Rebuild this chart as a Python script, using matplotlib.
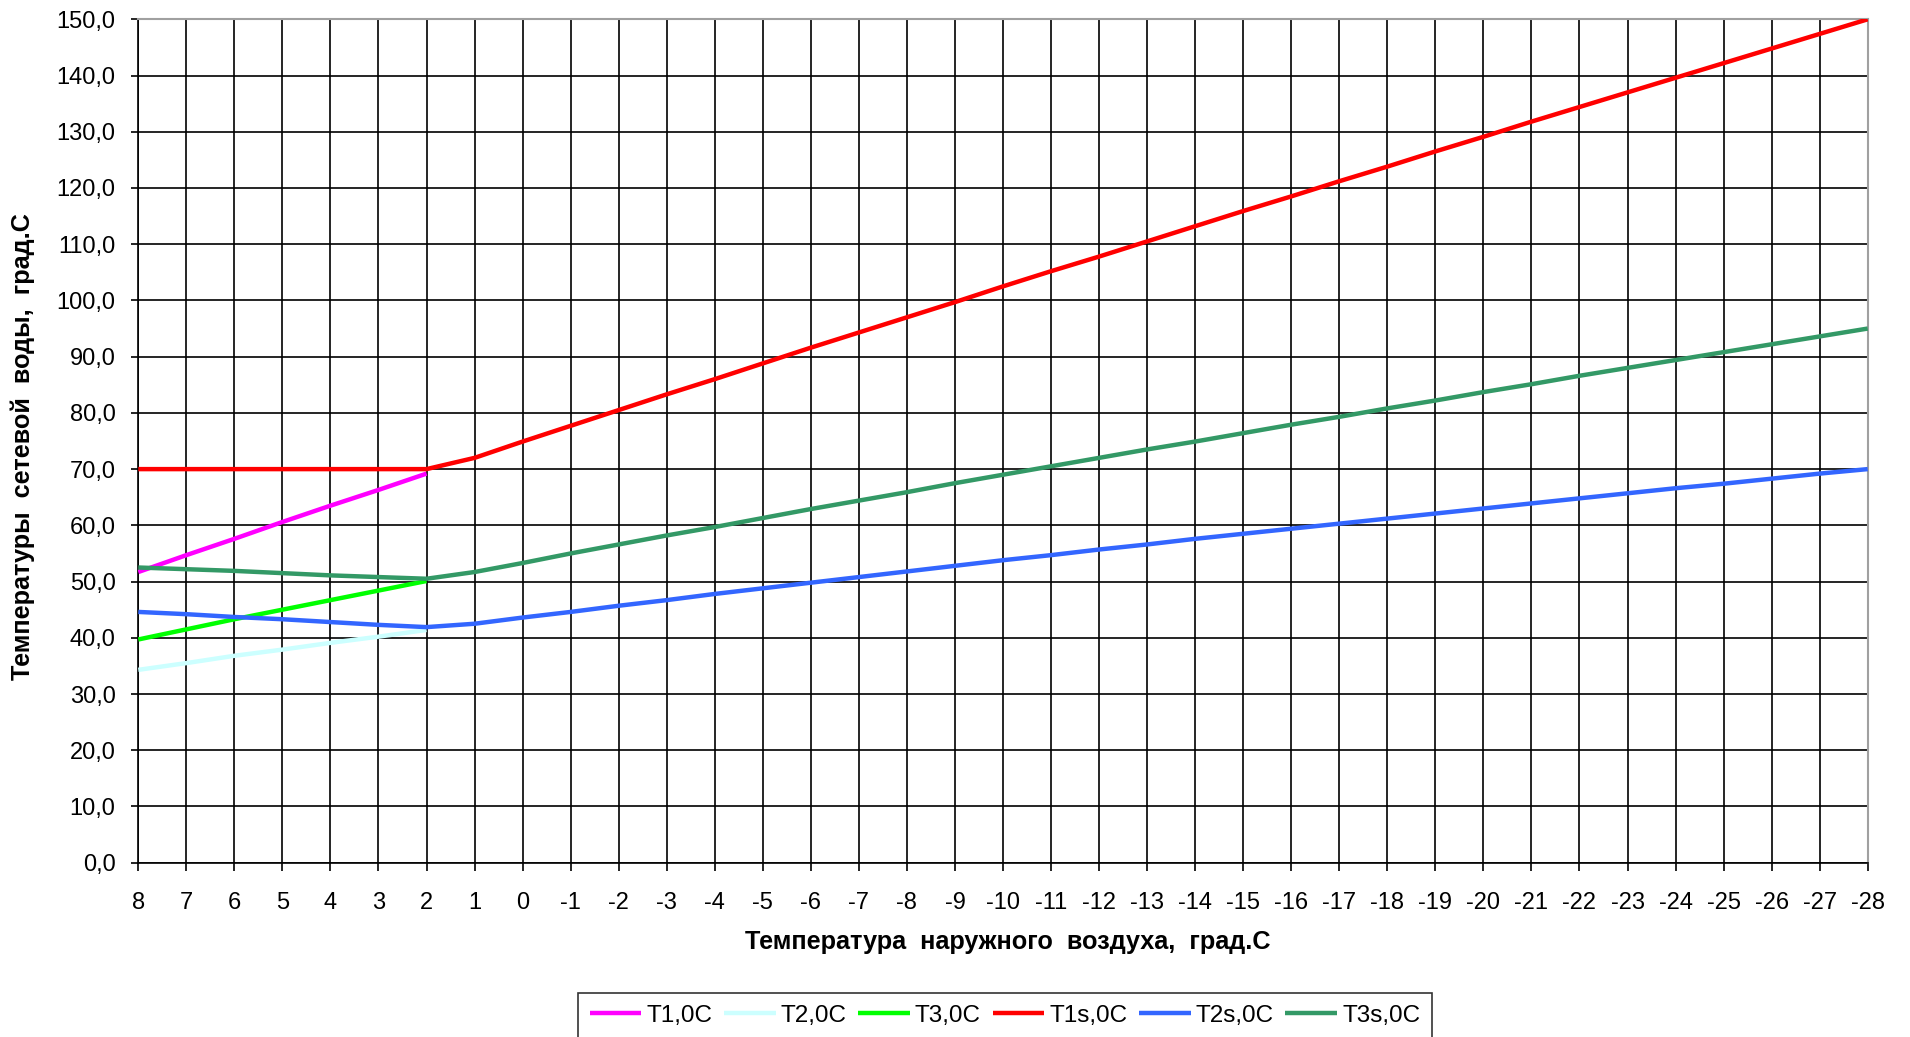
import matplotlib
matplotlib.use("Agg")
import matplotlib.pyplot as plt
from matplotlib.ticker import FixedLocator, FuncFormatter

plt.rcParams["font.family"] = ["Liberation Sans", "DejaVu Sans"]
plt.rcParams["axes.unicode_minus"] = False

# Outdoor air temperature, °C (categories along the x axis)
outdoor_temp = [8, 7, 6, 5, 4, 3, 2, 1, 0, -1, -2, -3, -4, -5, -6, -7, -8, -9,
                -10, -11, -12, -13, -14, -15, -16, -17, -18, -19, -20, -21,
                -22, -23, -24, -25, -26, -27, -28]
x_labels = [str(t) for t in outdoor_temp]

# Design curves for the warm part of the season (8 .. 2 °C)
temp_short = [8, 7, 6, 5, 4, 3, 2]
t1 = [51.7, 54.7, 57.6, 60.6, 63.5, 66.3, 69.2]
t2 = [34.3, 35.5, 36.8, 37.9, 39.1, 40.2, 41.4]
t3 = [39.7, 41.5, 43.3, 45.0, 46.7, 48.4, 50.1]

# Curves with the 70 °C supply cut-off, over the whole range
t1s = [70.0, 70.0, 70.0, 70.0, 70.0, 70.0, 70.0,
       72.0, 74.9, 77.7, 80.5, 83.3, 86.0, 88.8, 91.6, 94.3, 97.0,
       99.7, 102.5, 105.2, 107.8, 110.5, 113.2, 115.9, 118.5, 121.2, 123.8,
       126.5, 129.1, 131.8, 134.4, 137.0, 139.6, 142.2, 144.8, 147.4, 150.0]
t2s = [44.6, 44.2, 43.7, 43.3, 42.8, 42.3, 41.9,
       42.5, 43.6, 44.6, 45.7, 46.7, 47.8, 48.8, 49.8, 50.8, 51.8,
       52.8, 53.8, 54.7, 55.7, 56.6, 57.6, 58.5, 59.4, 60.3, 61.2,
       62.1, 63.0, 63.9, 64.8, 65.7, 66.6, 67.4, 68.3, 69.2, 70.0]
t3s = [52.5, 52.2, 51.9, 51.5, 51.1, 50.8, 50.5,
       51.7, 53.3, 55.0, 56.6, 58.2, 59.7, 61.3, 62.9, 64.4, 65.9,
       67.5, 69.0, 70.5, 72.0, 73.5, 74.9, 76.4, 77.9, 79.3, 80.8,
       82.2, 83.7, 85.1, 86.6, 88.0, 89.4, 90.8, 92.2, 93.6, 95.0]

y_ticks = list(range(0, 151, 10))

W, H = 1910, 1037
fig = plt.figure(figsize=(W / 100, H / 100), dpi=100)
left, right, top, bottom = 138.3, 1867.7, 19.3, 862.7
ax = fig.add_axes([left / W, 1 - bottom / H, (right - left) / W, (bottom - top) / H])

lw = 3.2
series = [
    (temp_short, t1, "#FF00FF", "T1,0C"),
    (temp_short, t2, "#CCFFFF", "T2,0C"),
    (temp_short, t3, "#00FF00", "T3,0C"),
    (outdoor_temp, t1s, "#FF0000", "T1s,0C"),
    (outdoor_temp, t2s, "#3366FF", "T2s,0C"),
    (outdoor_temp, t3s, "#339966", "T3s,0C"),
]
handles = []
for xs, ys, col, name in series:
    h, = ax.plot(xs, ys, color=col, lw=lw, label=name, solid_capstyle="butt",
                 zorder=3)
    handles.append(h)

ax.set_xlim(outdoor_temp[0], outdoor_temp[-1])
ax.set_ylim(0, 150)
ax.xaxis.set_major_locator(FixedLocator(outdoor_temp))
ax.xaxis.set_major_formatter(FuncFormatter(lambda v, p: x_labels[outdoor_temp.index(int(round(v)))]))
ax.yaxis.set_major_locator(FixedLocator(y_ticks))
ax.yaxis.set_major_formatter(FuncFormatter(lambda v, p: f"{v:.1f}".replace(".", ",")))

ax.set_axisbelow(True)
ax.grid(True, color="black", lw=1.2)
for s in ("left", "bottom"):
    ax.spines[s].set_color("black")
    ax.spines[s].set_linewidth(1.2)
for s in ("top", "right"):
    ax.spines[s].set_color("#A0A0A0")
    ax.spines[s].set_linewidth(1.5)

ax.tick_params(axis="both", direction="out", length=5.4, width=1.2,
               color="black", labelsize=17, labelcolor="black")
ax.tick_params(axis="y", pad=11)
ax.tick_params(axis="x", pad=15.5)

fig.text(1008 / W, 1 - 942 / H, "Температура  наружного  воздуха,  град.С",
         ha="center", va="center", fontsize=18.2, fontweight="bold")
fig.text(23 / W, 1 - 447 / H, "Температуры  сетевой  воды,  град.С",
         ha="center", va="center", rotation=90, fontsize=18.2, fontweight="bold")

leg = fig.legend(handles=handles, loc="upper left",
                 bbox_to_anchor=(578 / W, 1 - 993 / H), ncol=6, fontsize=17.5,
                 frameon=True, fancybox=False, edgecolor="black",
                 handlelength=2.13, handletextpad=0.2, columnspacing=0.48,
                 borderpad=0.48, borderaxespad=0)
leg.get_frame().set_linewidth(1.2)
for line in leg.get_lines():
    line.set_linewidth(3.2)

fig.savefig("out.png", dpi=100)
